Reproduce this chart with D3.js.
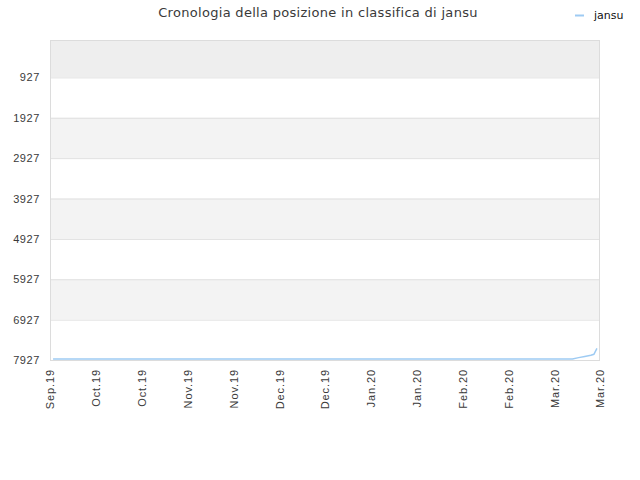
<!DOCTYPE html>
<html>
<head>
<meta charset="utf-8">
<script src="https://cdn.jsdelivr.net/npm/d3@7"></script>
<style>
  body { margin: 0; background: #fff; }
  svg { font-family: "DejaVu Sans", sans-serif; }
</style>
</head>
<body>
<div id="chart"></div>
<script>
const width = 640;
const height = 480;
const margin = { top: 40, right: 40, bottom: 120, left: 50 };

const parseDay = d3.timeParse("%Y-%m-%d");

// tick labels along the x axis
const xTickDates = [
  "2019-09-21", "2019-10-06", "2019-10-21", "2019-11-05", "2019-11-20",
  "2019-12-05", "2019-12-20", "2020-01-04", "2020-01-19", "2020-02-03",
  "2020-02-18", "2020-03-04", "2020-03-19"
];
const xTickLabels = [
  "Sep.19", "Oct.19", "Oct.19", "Nov.19", "Nov.19", "Dec.19", "Dec.19",
  "Jan.20", "Jan.20", "Feb.20", "Feb.20", "Mar.20", "Mar.20"
];
const yTicks = [927, 1927, 2927, 3927, 4927, 5927, 6927, 7927];

// ranking of jansu
const seriesDates = [
  "2019-09-22", "2019-10-20", "2019-11-20", "2019-12-20", "2020-01-20",
  "2020-02-20", "2020-03-10", "2020-03-12", "2020-03-14", "2020-03-16",
  "2020-03-17", "2020-03-18"
];
const seriesRank = [
  7900, 7900, 7900, 7900, 7900,
  7900, 7900, 7868, 7840, 7810,
  7785, 7640
];
const seriesName = "jansu";

const data = seriesDates.map((d, i) => ({ date: parseDay(d), rank: seriesRank[i] }));

const svg = d3.select("#chart")
  .append("svg")
  .attr("width", width)
  .attr("height", height);

const x = d3.scaleTime()
  .domain([parseDay(xTickDates[0]), parseDay(xTickDates[xTickDates.length - 1])])
  .range([margin.left, width - margin.right]);

const y = d3.scaleLinear()
  .domain([1, 7927])
  .range([margin.top, height - margin.bottom]);

// alternating bands
const bandEdges = [1, ...yTicks];
const bands = d3.pairs(bandEdges);
svg.append("g")
  .selectAll("rect")
  .data(bands)
  .join("rect")
  .attr("x", margin.left)
  .attr("width", width - margin.left - margin.right)
  .attr("y", d => y(d[0]))
  .attr("height", d => y(d[1]) - y(d[0]))
  .attr("fill", (d, i) => i === 0 ? "#eeeeee" : (i % 2 === 0 ? "#f3f3f3" : "#ffffff"));

// grid lines
svg.append("g")
  .selectAll("line")
  .data(yTicks)
  .join("line")
  .attr("x1", margin.left)
  .attr("x2", width - margin.right)
  .attr("y1", d => y(d) + 0.5)
  .attr("y2", d => y(d) + 0.5)
  .attr("stroke", "#e0e0e0");

// frame
svg.append("rect")
  .attr("x", margin.left + 0.5)
  .attr("y", margin.top + 0.5)
  .attr("width", width - margin.left - margin.right - 1)
  .attr("height", height - margin.top - margin.bottom)
  .attr("fill", "none")
  .attr("stroke", "#dcdcdc");

// y axis
const yAxis = d3.axisLeft(y).tickValues(yTicks).tickFormat(d3.format("d")).tickSize(0).tickPadding(10);
svg.append("g")
  .attr("transform", `translate(${margin.left},0)`)
  .call(yAxis)
  .call(g => g.select(".domain").remove())
  .call(g => g.selectAll("text")
    .attr("fill", "#3a3a3a")
    .style("font-size", "11px")
    .style("letter-spacing", "0.6px"));

// x axis
const xAxis = d3.axisBottom(x)
  .tickValues(xTickDates.map(parseDay))
  .tickFormat((d, i) => xTickLabels[i])
  .tickSize(0);
svg.append("g")
  .attr("transform", `translate(0,${height - margin.bottom})`)
  .call(xAxis)
  .call(g => g.select(".domain").remove())
  .call(g => g.selectAll("text")
    .attr("fill", "#3a3a3a")
    .style("font-size", "11px")
    .style("letter-spacing", "0.9px")
    .attr("text-anchor", "end")
    .attr("transform", "rotate(-90)")
    .attr("x", -9)
    .attr("y", 0)
    .attr("dy", "0.35em"));

// line
const line = d3.line()
  .x(d => x(d.date))
  .y(d => y(d.rank));
svg.append("path")
  .datum(data)
  .attr("fill", "none")
  .attr("stroke", "#9ecbf3")
  .attr("stroke-width", 1.5)
  .attr("d", line);

// title
svg.append("text")
  .attr("x", 318)
  .attr("y", 17)
  .attr("text-anchor", "middle")
  .attr("fill", "#3a3a3a")
  .style("font-size", "13px")
  .style("letter-spacing", "0.3px")
  .text("Cronologia della posizione in classifica di jansu");

// legend
svg.append("line")
  .attr("x1", 575).attr("x2", 584)
  .attr("y1", 15.5).attr("y2", 15.5)
  .attr("stroke", "#9ecbf3")
  .attr("stroke-width", 2);
svg.append("text")
  .attr("x", 594)
  .attr("y", 19)
  .attr("fill", "#111")
  .style("font-size", "11px")
  .text(seriesName);
</script>
</body>
</html>
